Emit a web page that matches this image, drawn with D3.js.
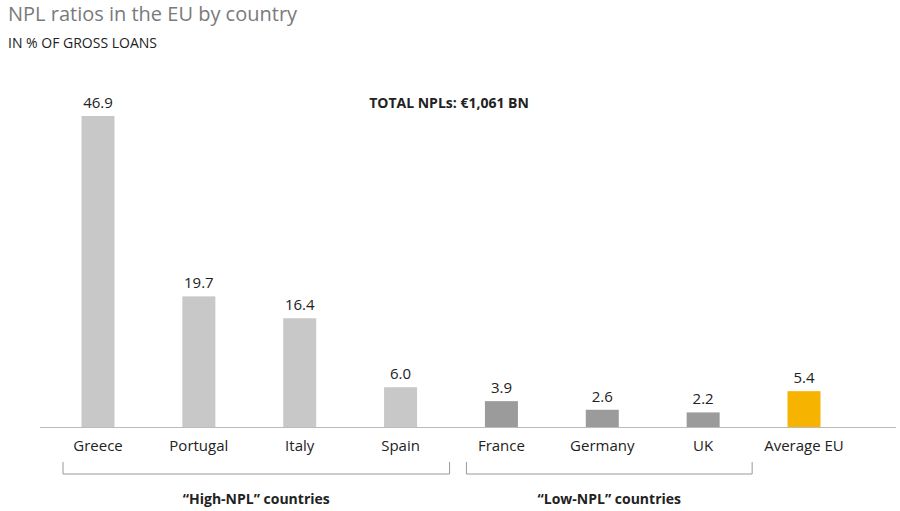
<!DOCTYPE html><html><head><meta charset="utf-8">
<script src="https://cdn.jsdelivr.net/npm/d3@7"></script>
<style>body{margin:0;background:#fff}text{font-family:"Open Sans","Noto Sans",sans-serif}</style></head><body>
<svg id="c" width="900" height="511"></svg>
<script>
const categories=["Greece","Portugal","Italy","Spain","France","Germany","UK","Average EU"];
const values=[46.9,19.7,16.4,6.0,3.9,2.6,2.2,5.4];
const groups=["high","high","high","high","low","low","low","avg"];
const groupLabels=[{name:"\u201CHigh-NPL\u201D countries",from:"Greece",to:"Spain"},{name:"\u201CLow-NPL\u201D countries",from:"France",to:"UK"}];
const colors={high:"#c8c8c8",low:"#9b9b9b",avg:"#f6b300"};
const svg=d3.select("#c");
const x=d3.scalePoint().domain(categories).range([98,804]);
const y=d3.scaleLinear().domain([0,46.9]).range([427,116]);
const bw=33;
svg.append("text").attr("x",8).attr("y",21).attr("font-size",20).attr("fill","#7a7a7a").text("NPL ratios in the EU by country");
svg.append("text").attr("x",8).attr("y",48).attr("font-size",14).attr("fill","#222").text("IN % OF GROSS LOANS");
svg.append("text").attr("x",449).attr("y",108).attr("text-anchor","middle").attr("font-size",14).attr("font-weight","bold").attr("fill","#222").text("TOTAL NPLs: \u20AC1,061 BN");
svg.selectAll("rect.b").data(values).join("rect").attr("x",(d,i)=>x(categories[i])-bw/2).attr("width",bw)
 .attr("y",d=>y(d)).attr("height",d=>y(0)-y(d)).attr("fill",(d,i)=>colors[groups[i]]);
svg.selectAll("text.v").data(values).join("text").attr("x",(d,i)=>x(categories[i])).attr("y",d=>y(d)-8)
 .attr("text-anchor","middle").attr("font-size",15).attr("fill","#222").text(d=>d.toFixed(1));
svg.append("line").attr("x1",40).attr("x2",896).attr("y1",427.5).attr("y2",427.5).attr("stroke","#bbb");
svg.selectAll("text.c").data(categories).join("text").attr("x",d=>x(d)).attr("y",451).attr("text-anchor","middle").attr("font-size",15).attr("fill","#222").text(d=>d);
const off=36;
groupLabels.forEach(g=>{
 const x1=x(g.from)-off+1,x2=x(g.to)+off+13;
 svg.append("path").attr("d",`M${x1},462V474H${x2}V462`).attr("fill","none").attr("stroke","#999");
 svg.append("text").attr("x",(x1+x2)/2).attr("y",504).attr("text-anchor","middle").attr("font-size",14).attr("font-weight","bold").attr("fill","#222").text(g.name);
});
</script></body></html>
